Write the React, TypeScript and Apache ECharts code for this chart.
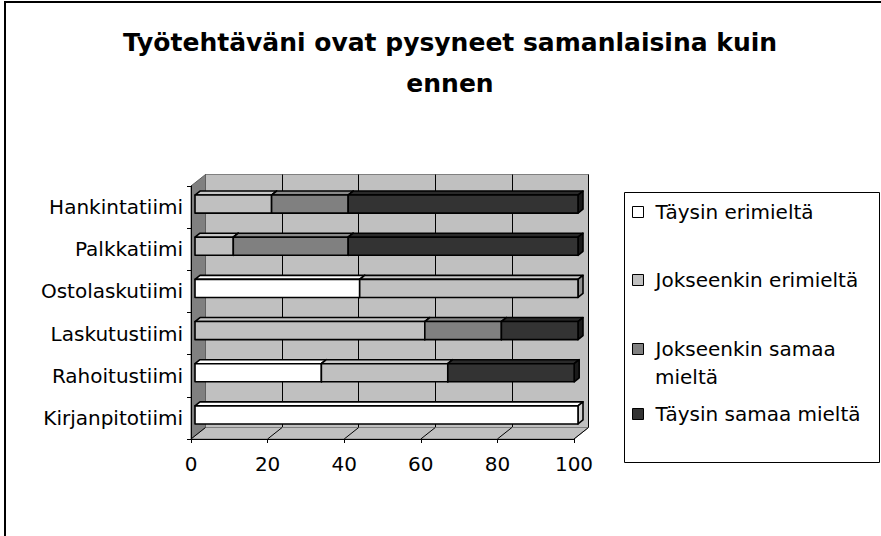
import React, { useEffect, useRef } from "react";
import * as echarts from "echarts";

const categories = ["Kirjanpitotiimi", "Rahoitustiimi", "Laskutustiimi", "Ostolaskutiimi", "Palkkatiimi", "Hankintatiimi"];
const seriesNames = ["Täysin erimieltä", "Jokseenkin erimieltä", "Jokseenkin samaa mieltä", "Täysin samaa mieltä"];
const taysinErimielta = [100, 33, 0, 43, 0, 0];
const jokseenkinErimielta = [0, 33, 60, 57, 10, 20];
const jokseenkinSamaa = [0, 0, 20, 0, 30, 20];
const taysinSamaa = [0, 33, 20, 0, 60, 60];
const xTicks = [0, 20, 40, 60, 80, 100];
const titleLines = ["Työtehtäväni ovat pysyneet samanlaisina kuin", "ennen"];

const FONT = "DejaVu Sans";
const frontColors = ["#ffffff", "#c0c0c0", "#808080", "#333333"];
const topColors = ["#ffffff", "#c8c8c8", "#8a8a8a", "#2a2a2a"];
const sideColors = ["#d0d0d0", "#909090", "#5a5a5a", "#1a1a1a"];

// plot geometry
const G_LEFT = 191, G_TOP = 186, G_RIGHT = 881 - 574, G_BOTTOM = 536 - 439;
const DX = 14.5, DY = 11.5; // wall depth
const BAR_OX = 4, BAR_OY = -3; // bar position within depth
const BD_X = 5, BD_Y = 4; // bar depth

export default function App() {
  const ref = useRef<HTMLDivElement>(null);
  useEffect(() => {
    if (!ref.current) return;
    const chart = echarts.init(ref.current, null, { renderer: "svg" });
    const all = [taysinErimielta, jokseenkinErimielta, jokseenkinSamaa, taysinSamaa];
    const barSeries = all.map((vals, si) => {
      const data = vals.map((v, j) => {
        let start = 0;
        for (let k = 0; k < si; k++) start += all[k][j];
        return [v, j, start];
      });
      return {
        type: "custom",
        name: seriesNames[si],
        xAxisIndex: 0,
        yAxisIndex: 0,
        z: 5 + si,
        itemStyle: { color: frontColors[si], borderColor: "#000", borderWidth: 1 },
        encode: { x: 0, y: 1 },
        data,
        renderItem: (params: any, api: any) => {
          const v = api.value(0), cat = api.value(1), start = api.value(2);
          if (!v) return null;
          const a = api.coord([start, cat]);
          const b = api.coord([start + v, cat]);
          const band = api.size([0, 1])[1];
          const h = band * 0.43;
          const x0 = a[0] + BAR_OX, x1 = b[0] + BAR_OX, yc = a[1] + BAR_OY;
          const yt = yc - h / 2, yb = yc + h / 2;
          const st = { stroke: "#000", lineWidth: 1.6, lineJoin: "round" };
          return {
            type: "group",
            children: [
              { type: "polygon", shape: { points: [[x0, yt], [x0 + BD_X, yt - BD_Y], [x1 + BD_X, yt - BD_Y], [x1, yt]] }, style: { fill: topColors[si], ...st } },
              { type: "polygon", shape: { points: [[x1, yt], [x1 + BD_X, yt - BD_Y], [x1 + BD_X, yb - BD_Y], [x1, yb]] }, style: { fill: sideColors[si], ...st } },
              { type: "rect", shape: { x: x0, y: yt, width: x1 - x0, height: h }, style: { fill: frontColors[si], ...st } },
            ],
          };
        },
      };
    });

    const wallSeries = {
      type: "custom",
      name: "walls",
      xAxisIndex: 0,
      yAxisIndex: 0,
      silent: true,
      z: 1,
      data: [[0, 0]],
      renderItem: (params: any, api: any) => {
        const cs = params.coordSys;
        const L = cs.x, T = cs.y, R = cs.x + cs.width, B = cs.y + cs.height;
        const children: any[] = [
          { type: "polygon", shape: { points: [[L, T], [L + DX, T - DY], [L + DX, B - DY], [L, B]] }, style: { fill: "#808080", stroke: "#606060", lineWidth: 1 } },
          { type: "polygon", shape: { points: [[L, B], [L + DX, B - DY], [R + DX, B - DY], [R, B]] }, style: { fill: "#c0c0c0", stroke: "#808080", lineWidth: 1 } },
        ];
        xTicks.forEach((t) => {
          const x = api.coord([t, 0])[0];
          children.push({ type: "line", shape: { x1: x, y1: B, x2: x + DX, y2: B - DY }, style: { stroke: "#000", lineWidth: 1 } });
        });
        return { type: "group", children };
      },
    };

    const legendCenters = [212, 280, 349, 414];
    const legends = seriesNames.map((n, i) => ({
      show: true,
      orient: "vertical",
      left: 632,
      top: legendCenters[i] - 14,
      padding: 0,
      itemGap: 0,
      itemWidth: 11,
      itemHeight: 11,
      icon: "rect",
      selectedMode: false,
      data: [n],
      itemStyle: { borderColor: "#000", borderWidth: 1 },
      formatter: (name: string) => (name === "Jokseenkin samaa mieltä" ? "Jokseenkin samaa" : name),
      textStyle: {
        fontFamily: FONT,
        fontSize: 20,
        color: "#000",
        lineHeight: 28,
        padding: [0, 0, 0, 7],
      },
    }));

    chart.setOption({
      animation: false,
      backgroundColor: "#ffffff",
      title: {
        text: titleLines.join("\n"),
        left: 450,
        top: 22,
        padding: 0,
        textAlign: "center",
        textStyle: { fontFamily: FONT, fontSize: 25, fontWeight: "bold", color: "#000", lineHeight: 41 },
      },
      legend: legends,
      grid: [
        { left: G_LEFT, top: G_TOP, right: G_RIGHT, bottom: G_BOTTOM, containLabel: false, outerBoundsMode: "none" },
        {
          left: G_LEFT + DX, top: G_TOP - DY, right: G_RIGHT - DX, bottom: G_BOTTOM + DY,
          show: true, backgroundColor: "#c0c0c0", borderColor: "#808080", borderWidth: 1,
          containLabel: false, outerBoundsMode: "none",
        },
      ],
      xAxis: [
        {
          gridIndex: 0, type: "value", min: 0, max: 100, interval: 20,
          axisLine: { show: true, onZero: false, lineStyle: { color: "#000", width: 1 } },
          axisTick: { show: true, length: 4, lineStyle: { color: "#000" } },
          axisLabel: { fontFamily: FONT, fontSize: 20, color: "#000", margin: 15 },
          splitLine: { show: false },
          z: 10,
        },
        {
          gridIndex: 1, type: "value", min: 0, max: 100, interval: 20,
          axisLine: { show: false }, axisTick: { show: false }, axisLabel: { show: false },
          splitLine: { show: true, lineStyle: { color: "#000", width: 1 } },
        },
      ],
      yAxis: [
        {
          gridIndex: 0, type: "category", data: categories,
          axisLine: { show: true, lineStyle: { color: "#000", width: 1 } },
          axisTick: { show: true, length: 4, lineStyle: { color: "#000" } },
          axisLabel: { fontFamily: FONT, fontSize: 20, color: "#000", margin: 8 },
          z: 10,
        },
        {
          gridIndex: 1, type: "category", data: categories,
          axisLine: { show: false }, axisTick: { show: false }, axisLabel: { show: false }, splitLine: { show: false },
        },
      ],
      graphic: [
        { type: "rect", silent: true, z: 100, shape: { x: 5, y: 2, width: 1000, height: 1000 }, style: { fill: "none", stroke: "#000", lineWidth: 2 } },
        { type: "rect", silent: true, z: 0, shape: { x: 624.5, y: 192.5, width: 255, height: 270 }, style: { fill: "#fff", stroke: "#000", lineWidth: 1 } },
        { type: "text", silent: true, z: 10, x: 655, y: 377, style: { text: "mieltä", fontFamily: FONT, fontSize: 20, fill: "#000", verticalAlign: "middle", align: "left" } },
      ],
      series: [wallSeries, ...barSeries],
    });
    return () => chart.dispose();
  }, []);
  return <div ref={ref} style={{ position: "absolute", left: 0, top: 0, width: 881, height: 536 }} />;
}
